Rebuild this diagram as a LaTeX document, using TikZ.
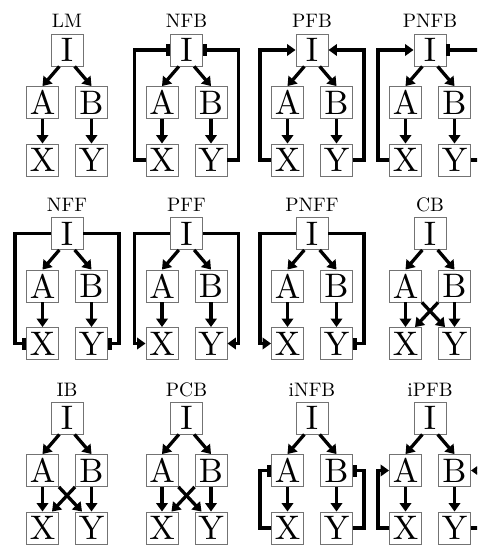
\documentclass[tikz,border=0pt]{standalone}
\usepackage{graphicx}
\usepackage{tikz}
\usetikzlibrary{arrows.meta}

\begin{document}
\begin{tikzpicture}[x=1pt,y=-1pt,
    gene/.style={draw=black!55,line width=0.9pt,minimum size=32pt,inner sep=0pt,
      font=\fontsize{10}{12}\selectfont},
    motif/.style={anchor=base,inner sep=0pt,font=\fontsize{10}{12}\selectfont},
    act/.style={line width=3.3pt,-{Triangle[length=8.5pt,width=11.5pt]}},
    inh/.style={line width=3.3pt,-{Bar[width=12pt,line width=3.8pt]}}]
    \clip (0,0) rectangle (477,545);

    % the twelve motifs: title, I on top, A and B below, X and Y at the bottom
    \foreach \p/\lab/\x/\y in {lm/LM/67/50, nfb/NFB/186.5/50, pfb/PFB/312/50, pnfb/PNFB/430/50,
        nff/NFF/67/233.5, pff/PFF/186.5/233.5, pnff/PNFF/312/233.5, cb/CB/430/233.5,
        ib/IB/67/418, pcb/PCB/186.5/418, infb/iNFB/312/418, ipfb/iPFB/430/418} {
      \node[motif] (\p T) at (\x,\y-22) {\scalebox{1.95}{\lab}};
      \node[gene] (\p I) at (\x,\y) {\scalebox{3.4}{I}};
      \node[gene] (\p A) at (\x-24.5,\y+52.5) {\scalebox{3.4}{A}};
      \node[gene] (\p B) at (\x+24.5,\y+52.5) {\scalebox{3.4}{B}};
      \node[gene] (\p X) at (\x-24.5,\y+110) {\scalebox{3.4}{X}};
      \node[gene] (\p Y) at (\x+24.5,\y+110) {\scalebox{3.4}{Y}};

      \draw[act] (\p I.-115) to (\p A.north);
      \draw[act] (\p I.-65) to (\p B.north);
      \draw[act] (\p A) to (\p X);
      \draw[act] (\p B) to (\p Y);
    }

    % feedback to I
    \draw[inh] (nfbX.west) -- ++(-11,0) |- (nfbI.west);
    \draw[inh] (nfbY.east) -- ++(11,0) |- (nfbI.east);
    \draw[act] (pfbX.west) -- ++(-11,0) |- (pfbI.west);
    \draw[act] (pfbY.east) -- ++(11,0) |- (pfbI.east);
    \draw[act] (pnfbX.west) -- ++(-11,0) |- (pnfbI.west);
    \draw[inh] (pnfbY.east) -- ++(11,0) |- (pnfbI.east);

    % feedforward from I
    \draw[inh] (nffI.west) -- ++(-35.5,0) |- (nffX.west);
    \draw[inh] (nffI.east) -- ++(35.5,0) |- (nffY.east);
    \draw[act] (pffI.west) -- ++(-35.5,0) |- (pffX.west);
    \draw[act] (pffI.east) -- ++(35.5,0) |- (pffY.east);
    \draw[act] (pnffI.west) -- ++(-35.5,0) |- (pnffX.west);
    \draw[inh] (pnffI.east) -- ++(35.5,0) |- (pnffY.east);

    % crossed branches
    \draw[act] (cbA.south east) to (cbY.120);
    \draw[act] (cbB.south west) to (cbX.60);
    \draw[act] (ibA.south east) to (ibY.120);
    \draw[act] (ibB.south west) to (ibX.60);
    \draw[act] (pcbA.south east) to (pcbY.120);
    \draw[act] (pcbB.south west) to (pcbX.60);

    % inner feedback to A and B
    \draw[inh] (infbX.west) -- ++(-11,0) |- (infbA.west);
    \draw[inh] (infbY.east) -- ++(11,0) |- (infbB.east);
    \draw[act] (ipfbX.west) -- ++(-11,0) |- (ipfbA.west);
    \draw[act] (ipfbY.east) -- ++(11,0) |- (ipfbB.east);
  \end{tikzpicture}
\end{document}
